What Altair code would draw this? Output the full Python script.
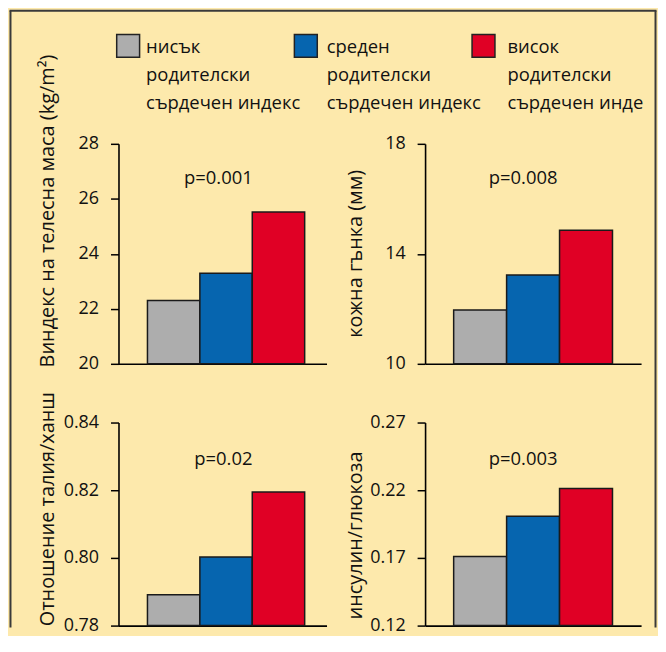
import altair as alt
import pandas as pd

FONT = "Open Sans"

groups = ["нисък", "среден", "висок"]
legend_texts = [
    "нисък\nродителски\nсърдечен индекс",
    "среден\nродителски\nсърдечен индекс",
    "висок\nродителски\nсърдечен индекс",
]
bar_colors = ["#ADADAD", "#0665AF", "#E00025"]

bmi = [22.3, 23.29, 25.52]
skinfold = [11.96, 13.23, 14.86]
waist_hip = [0.7891, 0.8003, 0.8195]
insulin_glucose = [0.171, 0.2007, 0.2213]

p_labels = ["p=0.001", "p=0.008", "p=0.02", "p=0.003"]
y_titles = [
    "Виндекс на телесна маса  (kg/m²)",
    "кожна гънка (мм)",
    "Отношение талия/ханш",
    "инсулин/глюкоза",
]
y_domains = [[20, 28], [10, 18], [0.78, 0.84], [0.12, 0.27]]
y_ticks = [[20, 22, 24, 26, 28], [10, 14, 18], [0.78, 0.80, 0.82, 0.84], [0.12, 0.17, 0.22, 0.27]]
y_formats = ["d", "d", ".2f", ".2f"]

color_scale = alt.Scale(domain=groups, range=bar_colors)
FRAME = "#3a3a3a"


def legend_x_scale(rng):
    return alt.Scale(type="point", domain=groups, padding=0, range=rng)


def panel(values, title, dom, ticks, fmt, plabel, w, h, pad_outer, align,
          title_x, title_y, p_dx, p_base, with_legend=False):
    df = pd.DataFrame({"g": groups, "v": values})
    xscale = alt.Scale(domain=groups, paddingInner=0, paddingOuter=pad_outer, align=align)
    bars = alt.Chart(df).mark_bar(stroke="#1a1a1a", strokeWidth=1.5).encode(
        x=alt.X("g:N", scale=xscale,
                axis=alt.Axis(title=None, labels=False, ticks=False, domain=True,
                              domainColor="#000", domainWidth=1.6)),
        y=alt.Y("v:Q", scale=alt.Scale(domain=dom, nice=False, zero=False),
                axis=alt.Axis(values=ticks, format=fmt, title=title,
                              titleX=title_x, titleY=title_y, titleAngle=270,
                              titleAlign="center", titleBaseline="middle",
                              titleFont=FONT, titleFontSize=20, titleFontWeight="normal",
                              titleColor="#111", labelFont=FONT, labelFontSize=18,
                              labelColor="#111", labelPadding=12, tickSize=8,
                              tickWidth=1.5, tickColor="#000", domainColor="#000",
                              domainWidth=1.6, grid=False, labelFlush=False,
                              labelOverlap=False)),
        y2=alt.datum(dom[0]),
        color=alt.Color("g:N", scale=color_scale, legend=None),
    )
    pt = alt.Chart(pd.DataFrame({"g": [groups[1]], "t": [plabel]})).mark_text(
        font=FONT, fontSize=18.5, dx=p_dx, baseline="alphabetic", color="#111"
    ).encode(
        x=alt.X("g:N", scale=xscale, axis=None),
        y=alt.value(p_base),
        text="t:N",
    )
    layers = [bars, pt]
    if with_legend:
        lg = pd.DataFrame({"g": groups, "lab": legend_texts})
        sq = alt.Chart(lg).mark_square(size=23 * 23, opacity=1, stroke="#222",
                                       strokeWidth=1.5).encode(
            x=alt.X("g:N", scale=legend_x_scale([9.7, 366.7]), axis=None),
            y=alt.value(-98.4),
            color=alt.Color("g:N", scale=color_scale, legend=None),
        )
        text_style = dict(font=FONT, fontSize=18.5, align="left", baseline="alphabetic",
                          lineBreak="\n", lineHeight=28.5, color="#111")
        tx_a = alt.Chart(lg.iloc[:2]).mark_text(**text_style).encode(
            x=alt.X("g:N", scale=legend_x_scale([27.7, 390.7]), axis=None),
            y=alt.value(-91.7),
            text="lab:N",
        )
        tx_b = alt.Chart(lg.iloc[2:]).mark_text(limit=147, ellipsis=" ", **text_style).encode(
            x=alt.X("g:N", scale=legend_x_scale([27.7, 390.7]), axis=None),
            y=alt.value(-91.7),
            text="lab:N",
        )
        one = pd.DataFrame({"k": [0]})
        frame_left = alt.Chart(one).mark_rule(color=FRAME, strokeWidth=2).encode(
            x=alt.value(-108.5), y=alt.value(-133.7), y2=alt.value(486))
        frame_top = alt.Chart(one).mark_rule(color=FRAME, strokeWidth=2).encode(
            x=alt.value(-109.5), x2=alt.value(540.5), y=alt.value(-133.7))
        frame_right = alt.Chart(one).mark_rule(color=FRAME, strokeWidth=2).encode(
            x=alt.value(539.5), y=alt.value(-133.7), y2=alt.value(486))
        layers += [sq, tx_a, tx_b, frame_left, frame_top, frame_right]
    return alt.layer(*layers).resolve_scale(x="independent").properties(width=w, height=h)


p1 = panel(bmi, y_titles[0], y_domains[0], y_ticks[0], y_formats[0], p_labels[0],
           209, 221, 0.485, 0.57, -71, 67, -9, 40.5, with_legend=True)
p2 = panel(skinfold, y_titles[1], y_domains[1], y_ticks[1], y_formats[1], p_labels[1],
           217, 221, 0.54, 0.5, -70, 110, -10, 40.5)
p3 = panel(waist_hip, y_titles[2], y_domains[2], y_ticks[2], y_formats[2], p_labels[2],
           209, 204, 0.485, 0.57, -71, 86.5, -4, 42.5)
p4 = panel(insulin_glucose, y_titles[3], y_domains[3], y_ticks[3], y_formats[3], p_labels[3],
           217, 204, 0.54, 0.5, -70, 113, -10, 42.5)

chart = alt.concat(
    p1, p2, p3, p4, columns=2, spacing={"row": 59, "column": 99}, bounds="flush"
).properties(
    background="#FDE9AC",
    padding={"left": 0, "top": 0, "right": 0, "bottom": 0},
).configure_view(strokeWidth=0)

chart.save("out.html", embed_options={"renderer": "svg", "actions": False})
